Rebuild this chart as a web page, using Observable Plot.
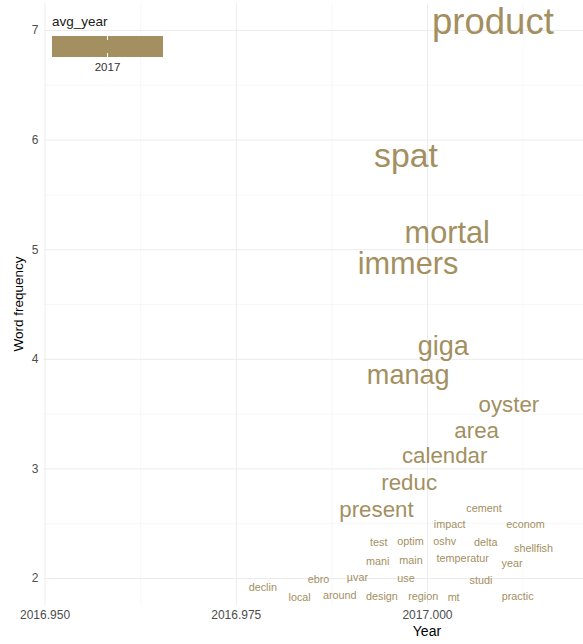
<!DOCTYPE html>
<html>
<head>
<meta charset="utf-8">
<script src="https://cdn.jsdelivr.net/npm/d3@7"></script>
<script src="https://cdn.jsdelivr.net/npm/@observablehq/plot@0.6"></script>
<style>
  html, body { margin: 0; padding: 0; background: #ffffff; }
</style>
</head>
<body>
<div id="chart"></div>
<script>
// ---- data ----
const words = ["product","spat","mortal","immers","giga","manag","oyster","area","calendar","reduc","present",
  "cement","impact","econom","test","optim","oshv","delta","shellfish","mani","main","temperatur","year",
  "µvar","use","studi","ebro","declin","local","around","design","region","mt","practic"];
const years = [2017.00856,2016.99719,2017.00258,2016.99745,2017.00207,2016.99748,2017.01065,2017.00643,2017.00225,2016.99761,2016.99333,
  2017.00739,2017.00290,2017.01281,2016.99363,2016.99778,2017.00226,2017.00762,2017.01386,2016.99350,2016.99784,2017.00461,2017.01105,
  2016.99085,2016.99719,2017.00699,2016.98575,2016.97847,2016.98329,2016.98854,2016.99405,2016.99944,2017.00342,2017.01179];
const freqPos = [7.077,5.852,5.150,4.865,4.120,3.855,3.583,3.349,3.118,2.869,2.631,
  2.643,2.495,2.495,2.324,2.339,2.339,2.333,2.272,2.157,2.166,2.181,2.135,
  2.005,1.998,1.984,1.995,1.922,1.831,1.847,1.838,1.838,1.831,1.838];
const counts = [7,6,5,5,4,4,3,3,3,3,3,
  2,2,2,2,2,2,2,2,2,2,2,2,
  2,2,2,2,2,2,2,2,2,2,2];
const avgYearLegend = [2017];
const xTicks = [2016.950, 2016.975, 2017.000];
const xMinor = [2016.9625, 2016.9875, 2017.0125];
const yTicks = [2, 3, 4, 5, 6, 7];
const yMinor = [2.5, 3.5, 4.5, 5.5, 6.5];

const table = words.map((w, i) => ({word: w, year: years[i], freq: freqPos[i], n: counts[i]}));

const wordColor = "#a38f5f";
// area-style size scale (min..max font size)
const sizeOf = n => 10.8 + 25.7 * Math.sqrt((n - 2) / 5);
const font = "'Liberation Sans', Arial, Helvetica, sans-serif";

const plot = Plot.plot({
  width: 583,
  height: 644,
  marginLeft: 44,
  marginRight: 0,
  marginTop: 3,
  marginBottom: 39,
  style: {fontFamily: font, fontSize: "12px", color: "#4d4d4d", background: "#ffffff"},
  x: {domain: [2016.94993, 2017.0204], label: null},
  y: {domain: [1.754, 7.246], label: null},
  marks: [
    Plot.ruleX(xMinor, {stroke: "#f3f3f3", strokeWidth: 0.7}),
    Plot.ruleY(yMinor, {stroke: "#f3f3f3", strokeWidth: 0.7}),
    Plot.ruleX(xTicks, {stroke: "#ececec", strokeWidth: 1}),
    Plot.ruleY(yTicks, {stroke: "#ececec", strokeWidth: 1}),
    Plot.axisX(xTicks, {tickSize: 0, tickPadding: 5, tickFormat: d3.format(".3f"), label: null}),
    Plot.axisY(yTicks, {tickSize: 0, tickPadding: 6, tickFormat: d3.format("d"), label: null}),
    Plot.text(table, {
      x: "year", y: "freq", text: "word",
      fontSize: d => sizeOf(d.n),
      fill: wordColor,
      lineAnchor: "middle",
      textAnchor: "middle"
    })
  ]
});

document.getElementById("chart").appendChild(plot);

const svg = d3.select(plot);
const xs = plot.scale("x");

// axis titles
svg.append("text")
  .attr("x", xs.apply(2017.000)).attr("y", 636)
  .attr("text-anchor", "middle")
  .attr("font-family", font).attr("font-size", 14).attr("fill", "#000")
  .text("Year");
svg.append("text")
  .attr("transform", "translate(23,304) rotate(-90)")
  .attr("text-anchor", "middle")
  .attr("font-family", font).attr("font-size", 13.5).attr("fill", "#000")
  .text("Word frequency");

// legend (inside panel, top-left)
const lg = svg.append("g");
lg.append("text")
  .attr("x", 52).attr("y", 26)
  .attr("text-anchor", "start")
  .attr("font-family", font).attr("font-size", 13.5).attr("fill", "#1a1a1a")
  .text("avg_year");
lg.append("rect")
  .attr("x", 52).attr("y", 36).attr("width", 111).attr("height", 21)
  .attr("fill", wordColor);
const midX = 52 + 111 / 2;
lg.append("line").attr("x1", midX).attr("x2", midX).attr("y1", 36).attr("y2", 40)
  .attr("stroke", "#fff").attr("stroke-width", 1);
lg.append("line").attr("x1", midX).attr("x2", midX).attr("y1", 53).attr("y2", 57)
  .attr("stroke", "#fff").attr("stroke-width", 1);
lg.append("text")
  .attr("x", midX).attr("y", 71)
  .attr("text-anchor", "middle")
  .attr("font-family", font).attr("font-size", 11.5).attr("fill", "#333")
  .text(String(avgYearLegend[0]));
</script>
</body>
</html>
